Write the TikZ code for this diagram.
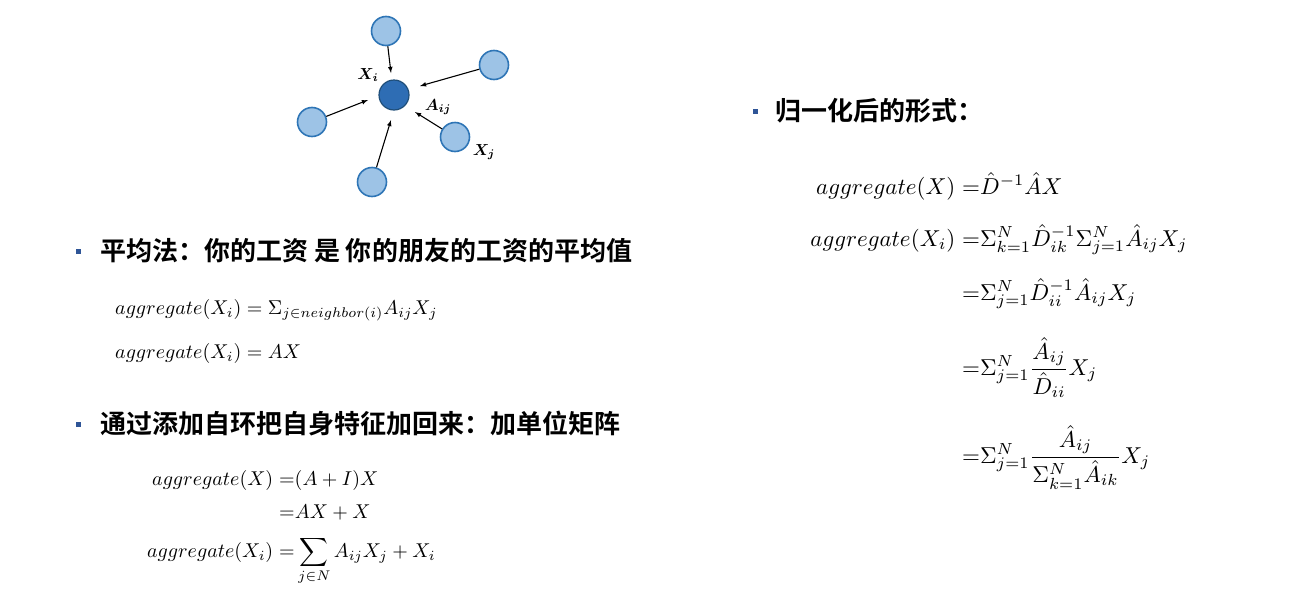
\documentclass[tikz,border=0pt]{standalone}
\usepackage{amsmath}
\usepackage{graphicx}
\usepackage{fontspec}
\newfontfamily\cjk{Noto Sans CJK SC Bold}
\definecolor{nbfill}{HTML}{9DC3E6}
\definecolor{nbdraw}{HTML}{2E75B6}
\definecolor{cfill}{HTML}{2E6DB4}
\definecolor{cdraw}{HTML}{1F4E79}
\definecolor{bulc}{HTML}{2F5597}
\newcommand{\mA}[1]{\scalebox{2.0}{#1}}
\newcommand{\mB}[1]{\scalebox{2.3}{#1}}
\newcommand{\mC}[1]{\scalebox{1.6}{#1}}
\begin{document}
\begin{tikzpicture}[x=1pt,y=-1pt,
  nb/.style={circle,draw=nbdraw,line width=1.6pt,fill=nbfill,minimum size=29pt,inner sep=0pt},
  ctr/.style={circle,draw=cdraw,line width=1.2pt,fill=cfill,minimum size=30pt,inner sep=0pt},
  ar/.style={-latex,line width=1.1pt},
  hd/.style={anchor=base west,font=\cjk\fontsize{26}{30}\selectfont,inner sep=0pt},
  bul/.style={fill=bulc,minimum size=5pt,inner sep=0pt},
  eqL/.style={anchor=base east,inner sep=0pt},
  eqR/.style={anchor=base west,inner sep=0pt}]
\useasboundingbox (0,0) rectangle (1296,600);
\node[ctr] (c) at (394,95) {};
\node[nb] (t) at (386,31) {};
\node[nb] (ur) at (494,65) {};
\node[nb] (l) at (312,122) {};
\node[nb] (lr) at (455,137) {};
\node[nb] (b) at (372,182) {};
\coordinate (ct) at (391,73);
\coordinate (cur) at (420,86);
\coordinate (cl) at (368,100);
\coordinate (clr) at (415,112);
\coordinate (cb) at (391,120);
\draw[ar] (t) -- (ct);
\draw[ar] (ur) -- (cur);
\draw[ar] (l) -- (cl);
\draw[ar] (lr) -- (clr);
\draw[ar] (b) -- (cb);
\node (xi) at (368,75) {\mC{$\boldsymbol{X_i}$}};
\node (aij) at (438,107) {\mC{$\boldsymbol{A_{ij}}$}};
\node (xj) at (484,152) {\mC{$\boldsymbol{X_j}$}};

\node[bul] (b1) at (78,251) {};
\node[hd] (h1) at (100,260) {平均法：你的工资 是 你的朋友的工资的平均值};
\node[anchor=base west,inner sep=0pt] (f1) at (115,314) {\mA{$aggregate(X_i)=\Sigma_{j\in neighbor(i)}A_{ij}X_j$}};
\node[anchor=base west,inner sep=0pt] (f2) at (115,358) {\mA{$aggregate(X_i)=AX$}};

\node[bul] (b2) at (78,424) {};
\node[hd] (h2) at (100,433) {通过添加自环把自身特征加回来：加单位矩阵};
\node[eqL] (g1) at (279,485) {\mA{$aggregate(X)\;$}};
\node[eqR] (g1r) at (279,485) {\mA{${=}(A+I)X$}};
\node[eqR] (g2r) at (279,518) {\mA{${=}AX+X$}};
\node[eqL] (g3) at (279,557) {\mA{$aggregate(X_i)\;$}};
\node[eqR] (g3r) at (279,557) {\mA{${=}\displaystyle\sum_{j\in N}A_{ij}X_j+X_i$}};

\node[bul] (b3) at (755,111) {};
\node[hd] (h3) at (775,120) {归一化后的形式：};
\node[eqL] (r1) at (962,194) {\mB{$aggregate(X)\;$}};
\node[eqR] (r1r) at (962,194) {\mB{${=}\hat{D}^{-1}\hat{A}X$}};
\node[eqL] (r2) at (962,246) {\mB{$aggregate(X_i)\;$}};
\node[eqR] (r2r) at (962,246) {\mB{${=}\Sigma_{k=1}^{N}\hat{D}_{ik}^{-1}\Sigma_{j=1}^{N}\hat{A}_{ij}X_j$}};
\node[eqR] (r3r) at (962,300) {\mB{${=}\Sigma_{j=1}^{N}\hat{D}_{ii}^{-1}\hat{A}_{ij}X_j$}};
\node[eqR] (r4r) at (962,375) {\mB{${=}\Sigma_{j=1}^{N}\dfrac{\hat{A}_{ij}}{\hat{D}_{ii}}X_j$}};
\node[eqR] (r5r) at (962,463) {\mB{${=}\Sigma_{j=1}^{N}\dfrac{\hat{A}_{ij}}{\Sigma_{k=1}^{N}\hat{A}_{ik}}X_j$}};
\end{tikzpicture}
\end{document}
